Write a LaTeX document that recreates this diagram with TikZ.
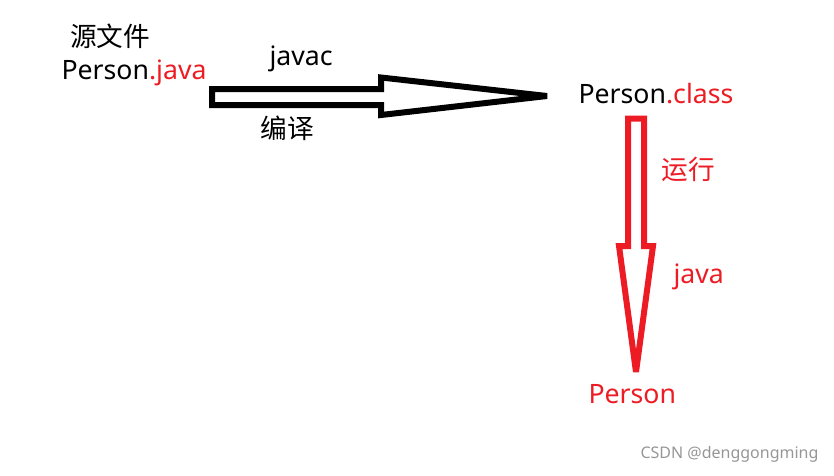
\documentclass[tikz,border=0pt]{standalone}
\usepackage{fontspec}
\setmainfont{Noto Sans}
\newfontfamily\cjk{Noto Sans CJK SC}
\usepackage{tikz}
\tikzset{every picture/.style={line width=0.75pt}}
\definecolor{runRed}{RGB}{237,28,36}
\definecolor{markGray}{RGB}{150,150,150}

\begin{document}
\begin{tikzpicture}[x=0.75pt,y=0.75pt,yscale=-1,xscale=1,
  txt/.style={inner sep=0pt,font=\fontsize{20}{24}\selectfont},
  cjktxt/.style={inner sep=0pt,font=\fontsize{20}{24}\selectfont\cjk},
  blockarrow/.style={line width=4.5pt,miter limit=3}]
\useasboundingbox (0,0) rectangle (834,475);

% Text Node
\node[cjktxt] (srcTitle) at (110,36) {源文件};
% Text Node
\node[txt,anchor=base west] (srcFile) at (61,79) {Person\textcolor{runRed}{.java}};
% Text Node
\node[txt,anchor=base west] (javac) at (269,65) {javac};
% Text Node
\node[cjktxt] (compile) at (287,128.5) {编译};
% Text Node
\node[txt,anchor=base west] (classFile) at (578,103) {Person\textcolor{runRed}{.class}};
% Text Node
\node[cjktxt,runRed] (run) at (688.5,169.5) {运行};
% Text Node
\node[txt,anchor=base west,runRed] (java) at (673,283) {java};
% Text Node
\node[txt,anchor=base west,runRed] (obj) at (588,403) {Person};
% Text Node
\node[inner sep=0pt,anchor=base west,markGray,font=\fontsize{12}{14}\selectfont] (mark) at (640,458) {CSDN @denggongming};

%Shape: Right Arrow
\draw[blockarrow] (212,89) -- (381,89) -- (381,77.5) -- (547,96) -- (381,115) -- (381,105) -- (212,105) -- cycle ;
%Shape: Down Arrow
\draw[blockarrow,runRed] (628,118.5) -- (644,118.5) -- (644,246) -- (653,246) -- (636,372) -- (619,246) -- (628,246) -- cycle ;
\end{tikzpicture}
\end{document}
